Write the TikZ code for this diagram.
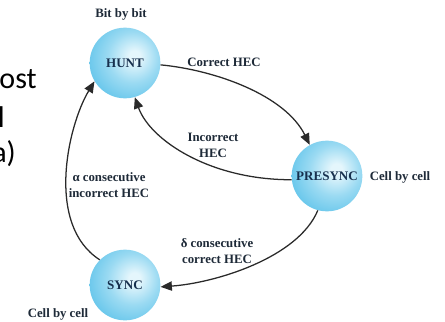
\documentclass[tikz,border=0pt]{standalone}
\usepackage{fontspec}
\setmainfont{Liberation Serif}
\newfontfamily\slidefont{Carlito}
\usetikzlibrary{arrows.meta}
\definecolor{hl}{HTML}{E4F6FC}
\definecolor{midc}{HTML}{5EC3EA}
\definecolor{edgec}{HTML}{23A3D8}
\definecolor{txt}{HTML}{1E2A38}
\definecolor{ntxt}{HTML}{17304E}
\definecolor{ln}{HTML}{2A2A2A}
\pgfdeclareradialshading{sphereshade}{\pgfpoint{7bp}{5bp}}{%
  color(0bp)=(hl); color(4bp)=(hl); color(18bp)=(midc!55!hl); color(34bp)=(midc); color(54bp)=(edgec); color(90bp)=(edgec)}
\tikzset{
  state/.style={circle, minimum size=53pt, inner sep=0pt, shading=sphereshade,
    font=\bfseries\fontsize{9.8}{12}\selectfont, text=ntxt},
  lbl/.style={font=\bfseries\fontsize{9.6}{12}\selectfont, text=txt, align=center, inner sep=0pt},
  arr/.style={draw=ln, line width=0.95pt, -{Triangle[length=8.5pt,width=7pt]}},
  slide/.style={font=\slidefont\fontsize{22.5}{27}\selectfont, text=black, inner sep=0pt, anchor=base east}
}
\begin{document}
\begin{tikzpicture}[x=0.75pt,y=-0.75pt]
\useasboundingbox (0,0) rectangle (445,321);
\fill[white] (0,0) rectangle (445,321);
% slide fragments
\node[slide] (s1) at (37,89) {ost};
\node[slide] (s2) at (5,127) {l};
\node[slide] (s3) at (16,162) {a)};
% states
\node[state] (hunt) at (125,63) {HUNT};
\node[state] (presync) at (327,176) {PRESYNC};
\node[state] (sync) at (125,285) {SYNC};
% labels
\node[lbl] (l1) at (121,14) {Bit by bit};
\node[lbl] (l2) at (224,62) {Correct HEC};
\node[lbl] (l3) at (213,145) {Incorrect\\HEC};
\node[lbl] (l4) at (400,177) {Cell by cell};
\node[lbl] (l5) at (109,185) {α consecutive\\incorrect HEC};
\node[lbl] (l6) at (217,251) {δ consecutive\\correct HEC};
\node[lbl] (l7) at (58,314) {Cell by cell};
% transitions
\draw[arr] (hunt.-3) .. controls (215,70) and (285,95) .. (presync.119);
\draw[arr] (presync.186) .. controls (210,180) and (150,140) .. (hunt.286);
\draw[arr] (presync.255) .. controls (298,258) and (215,283) .. (sync.-3);
\draw[arr] (sync.135) .. controls (45,225) and (68,125) .. (hunt.211);
\end{tikzpicture}
\end{document}
